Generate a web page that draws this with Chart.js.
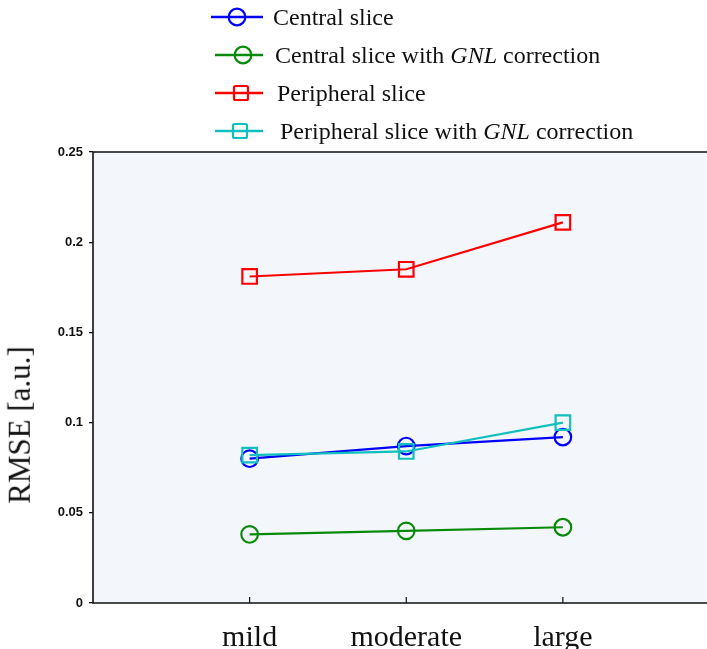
<!DOCTYPE html>
<html>
<head>
<meta charset="utf-8">
<script src="https://cdn.jsdelivr.net/npm/chart.js@4/dist/chart.umd.min.js"></script>
<style>
  html, body { margin: 0; padding: 0; background: #ffffff; overflow: hidden; }
  #wrap { position: relative; width: 707px; height: 649px; overflow: hidden; }
  #c { position: absolute; left: 0; top: 0; }
  .leg { position: absolute; height: 26px; display: flex; align-items: center;
         font-family: "Liberation Serif", "Times New Roman", serif; font-size: 24px; color: #111; white-space: nowrap; }
  .leg svg { position: absolute; top: 0; }
  .leg span { position: absolute; top: 50%; transform: translateY(-50%); }
  #ytitle { position: absolute; font-family: "Liberation Serif", "Times New Roman", serif; font-size: 31px;
            color: #111; white-space: nowrap; transform-origin: center center; }
</style>
</head>
<body>
<div id="wrap">
  <canvas id="c" width="732" height="649"></canvas>
  <div id="legend"></div>
  <div id="ytitle">RMSE [a.u.]</div>
</div>
<script>
// ---- data ----
const categories = ['mild', 'moderate', 'large'];
const centralSlice = [0.080, 0.087, 0.092];
const centralSliceGNL = [0.038, 0.040, 0.042];
const peripheralSlice = [0.181, 0.185, 0.211];
const peripheralSliceGNL = [0.082, 0.084, 0.100];
const yTicks = [0, 0.05, 0.1, 0.15, 0.2, 0.25];
const seriesNames = ['Central slice', 'Central slice with GNL correction', 'Peripheral slice', 'Peripheral slice with GNL correction'];

// ---- styles ----
const colors = ['#0000ff', '#0a8a0a', '#ff0000', '#12bfbf'];
const shapes = ['circle', 'circle', 'rect', 'rect'];
const seriesValues = [centralSlice, centralSliceGNL, peripheralSlice, peripheralSliceGNL];
const drawOrder = [1, 3, 2, 0];

const datasets = seriesValues.map((vals, k) => ({
  label: seriesNames[k],
  data: vals.map((v, i) => ({ x: i, y: v })),
  borderColor: colors[k],
  backgroundColor: 'rgba(0,0,0,0)',
  pointBorderColor: colors[k],
  pointBackgroundColor: 'rgba(0,0,0,0)',
  pointStyle: shapes[k],
  pointRadius: shapes[k] === 'rect' ? 10.3 : 8.3,
  pointBorderWidth: 2.2,
  borderWidth: 2.2,
  tension: 0,
  order: drawOrder[k]
}));

const frame = {
  id: 'frame',
  beforeDraw(chart) {
    const a = chart.chartArea, ctx = chart.ctx;
    ctx.save();
    ctx.fillStyle = '#f3f7fc';
    ctx.fillRect(a.left, a.top, a.right - a.left, a.bottom - a.top);
    ctx.restore();
  },
  beforeDatasetsDraw(chart) {
    const a = chart.chartArea, ctx = chart.ctx;
    ctx.save();
    ctx.strokeStyle = '#111';
    ctx.lineWidth = 1.6;
    ctx.beginPath();
    ctx.moveTo(a.right + 5, a.top); ctx.lineTo(a.left, a.top);
    ctx.lineTo(a.left, a.bottom); ctx.lineTo(a.right + 5, a.bottom);
    ctx.stroke();
    const xs = chart.scales.x;
    ctx.lineWidth = 1.2;
    ctx.beginPath();
    xs.ticks.forEach(t => {
      const px = xs.getPixelForValue(t.value);
      ctx.moveTo(px, a.bottom); ctx.lineTo(px, a.bottom - 6);
    });
    ctx.stroke();
    ctx.restore();
  }
};

new Chart(document.getElementById('c'), {
  type: 'line',
  data: { datasets },
  options: {
    responsive: false,
    animation: false,
    devicePixelRatio: 1,
    layout: { padding: { top: 152, left: 0, right: 0, bottom: 0 } },
    plugins: { legend: { display: false }, tooltip: { enabled: false } },
    scales: {
      x: {
        type: 'linear', min: -1, max: 3,
        afterBuildTicks: s => { s.ticks = categories.map((c, i) => ({ value: i })); },
        afterFit: s => { s.height = 46; },
        grid: { display: false },
        border: { display: false },
        ticks: {
          autoSkip: false, maxRotation: 0, padding: 9,
          color: '#111',
          font: { family: '"Liberation Serif", "Times New Roman", serif', size: 30 },
          callback: v => categories[v]
        }
      },
      y: {
        min: 0, max: 0.25,
        afterBuildTicks: s => { s.ticks = yTicks.map(v => ({ value: v })); },
        afterFit: s => { s.width = 93; },
        grid: { drawOnChartArea: false, drawTicks: true, tickLength: 4, color: '#111', lineWidth: 1.3 },
        border: { display: false },
        ticks: {
          padding: 6, color: '#111',
          font: { family: '"Liberation Sans", Arial, sans-serif', size: 13, weight: 'bold' },
          callback: v => String(v)
        }
      }
    }
  },
  plugins: [frame]
});

// ---- HTML legend (real text, italic GNL) ----
const legend = document.getElementById('legend');
const rowCenters = [17, 55, 93, 131];
const markerCx = [237, 243, 241, 240];
const lineStart = [211, 215, 215, 215];
const textLeft = [273, 275, 277, 280];
seriesNames.forEach((name, k) => {
  const row = document.createElement('div');
  row.className = 'leg';
  row.style.left = '0px';
  row.style.top = (rowCenters[k] - 13) + 'px';
  row.style.width = '707px';
  const ns = 'http://www.w3.org/2000/svg';
  const svg = document.createElementNS(ns, 'svg');
  svg.setAttribute('width', '70'); svg.setAttribute('height', '26');
  svg.style.left = (lineStart[k] - 2) + 'px';
  const ox = lineStart[k] - 2;
  const ln = document.createElementNS(ns, 'line');
  ln.setAttribute('x1', lineStart[k] - ox); ln.setAttribute('x2', 263 - ox);
  ln.setAttribute('y1', 13); ln.setAttribute('y2', 13);
  ln.setAttribute('stroke', colors[k]); ln.setAttribute('stroke-width', 2.4);
  svg.appendChild(ln);
  let m;
  if (shapes[k] === 'circle') {
    m = document.createElementNS(ns, 'circle');
    m.setAttribute('cx', markerCx[k] - ox); m.setAttribute('cy', 13); m.setAttribute('r', 8.3);
  } else {
    m = document.createElementNS(ns, 'rect');
    m.setAttribute('x', markerCx[k] - ox - 7); m.setAttribute('y', 6);
    m.setAttribute('width', 14); m.setAttribute('height', 14); m.setAttribute('rx', 1.5);
  }
  m.setAttribute('fill', 'none'); m.setAttribute('stroke', colors[k]); m.setAttribute('stroke-width', 2.2);
  svg.appendChild(m);
  row.appendChild(svg);
  const sp = document.createElement('span');
  sp.style.left = textLeft[k] + 'px';
  name.split(/(GNL)/).forEach(part => {
    if (part === 'GNL') { const i = document.createElement('i'); i.textContent = part; sp.appendChild(i); }
    else if (part) sp.appendChild(document.createTextNode(part));
  });
  row.appendChild(sp);
  legend.appendChild(row);
});

// y-axis title
const yt = document.getElementById('ytitle');
const w = yt.offsetWidth, h = yt.offsetHeight;
yt.style.left = (20 - w / 2) + 'px';
yt.style.top = (425 - h / 2) + 'px';
yt.style.transform = 'rotate(-90deg)';
</script>
</body>
</html>
